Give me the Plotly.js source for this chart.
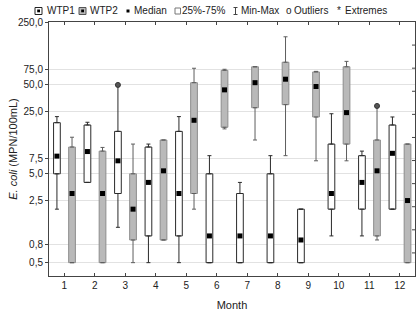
<!DOCTYPE html>
<html>
<head>
<meta charset="utf-8">
<script src="https://cdn.plot.ly/plotly-3.0.1.min.js"></script>
<style>
  html, body { margin: 0; padding: 0; background: #fff; }
  #chart { width: 420px; height: 311px; }
</style>
</head>
<body>
<div id="chart"></div>
<script>
// Monthly E. coli counts (MPN/100mL) at two treatment plants
const months = [1, 2, 3, 4, 5, 6, 7, 8, 9, 10, 11, 12];

const wtp1Min = [2.0, 4.0, 1.25, 0.5, 0.5, 0.5, 0.5, 0.5, 0.5, 1.0, 1.0, 2.0];
const wtp1Q1  = [5.0, 4.0, 3.0, 1.0, 1.0, 0.5, 0.5, 0.5, 0.5, 2.0, 2.0, 2.0];
const wtp1Med = [7.9, 8.9, 7.0, 4.0, 3.0, 1.0, 1.0, 1.0, 0.9, 3.0, 4.0, 8.5];
const wtp1Q3  = [18.8, 17.7, 15.0, 10.0, 15.0, 5.0, 3.0, 5.0, 2.0, 10.8, 8.0, 17.7];
const wtp1Max = [22.0, 19.0, 50.0, 10.8, 22.0, 8.0, 4.0, 8.0, 2.0, 23.7, 9.0, 21.8];

const wtp2Min = [0.5, 0.5, 0.5, 0.9, 2.0, 16.0, 12.0, 8.0, 7.0, 7.0, 0.9, 0.5];
const wtp2Q1  = [0.5, 0.5, 0.9, 0.9, 3.0, 16.7, 27.7, 30.0, 21.8, 10.8, 1.0, 0.5];
const wtp2Med = [3.0, 3.0, 2.0, 5.4, 20.0, 44.0, 53.0, 58.0, 48.0, 24.4, 5.4, 2.5];
const wtp2Q3  = [10.0, 9.0, 5.0, 12.0, 53.0, 73.0, 80.0, 90.0, 70.0, 80.0, 12.0, 10.8];
const wtp2Max = [12.9, 9.9, 10.8, 12.0, 77.0, 75.0, 80.0, 174.0, 71.0, 92.0, 29.0, 10.8];

// Outlying observations
const wtp1OutMonth = [3];
const wtp1OutValue = [50.0];
const wtp2OutMonth = [11];
const wtp2OutValue = [29.0];

// Y axis ticks
const yTickVals = [0.5, 0.8, 2.5, 5, 7.5, 25, 50, 75, 250];

const FONT = 'Liberation Sans, Arial, sans-serif';
const BOX_W = 0.22;
const OFF1 = -0.35, OFF2 = 0.145;           // left edge of each box relative to month
const C1 = OFF1 + BOX_W / 2, C2 = OFF2 + BOX_W / 2;   // box centres

const shift = (arr, d) => arr.map(v => v + d);
const diff = (a, b) => a.map((v, i) => v - b[i]);
const zeros = months.map(() => 0);

function boxTrace(q1, q3, off, fill, edge) {
  return {
    type: 'bar', x: months, y: diff(q3, q1), base: q1,
    width: BOX_W, offset: off,
    marker: { color: fill, line: { color: edge, width: 1 } },
    hoverinfo: 'skip', showlegend: false
  };
}

function whiskerTrace(xc, anchor, up, down, color) {
  return {
    type: 'scatter', mode: 'markers', x: shift(months, xc), y: anchor,
    marker: { size: 1, opacity: 0 },
    error_y: { type: 'data', symmetric: false, array: up, arrayminus: down,
               width: 2, thickness: 1, color: color },
    hoverinfo: 'skip', showlegend: false
  };
}

function pointTrace(xs, ys, marker) {
  return { type: 'scatter', mode: 'markers', x: xs, y: ys, marker: marker,
           hoverinfo: 'skip', showlegend: false };
}

const medMarker = { symbol: 'square', size: 5, color: '#000' };
const outMarker = { symbol: 'circle', size: 5, color: '#555', line: { color: '#333', width: 1 } };

const data = [
  boxTrace(wtp1Q1, wtp1Q3, OFF1, '#ffffff', '#2a2a2a'),
  boxTrace(wtp2Q1, wtp2Q3, OFF2, '#b9b9b9', '#8c8c8c'),
  whiskerTrace(C1, wtp1Q3, diff(wtp1Max, wtp1Q3), zeros, '#2a2a2a'),
  whiskerTrace(C1, wtp1Q1, zeros, diff(wtp1Q1, wtp1Min), '#2a2a2a'),
  whiskerTrace(C2, wtp2Q3, diff(wtp2Max, wtp2Q3), zeros, '#5e5e5e'),
  whiskerTrace(C2, wtp2Q1, zeros, diff(wtp2Q1, wtp2Min), '#5e5e5e'),
  pointTrace(shift(months, C1), wtp1Med, medMarker),
  pointTrace(shift(months, C2), wtp2Med, medMarker),
  pointTrace(shift(wtp1OutMonth, C1), wtp1OutValue, outMarker),
  pointTrace(shift(wtp2OutMonth, C2), wtp2OutValue, outMarker)
];

// Plot-area geometry in pixels, used to place the key and frame ticks
const M = { l: 49, r: 5, t: 22, b: 35 };
const PW = 420 - M.l - M.r, PH = 311 - M.t - M.b;
const px = x => (x - M.l) / PW;
const py = y => (311 - M.b - y) / PH;

const keyY = 10.7;
const shapes = [];
const annotations = [];
function rect(x0, y0, x1, y1, fill, line) {
  shapes.push({ type: 'rect', xref: 'paper', yref: 'paper',
    x0: px(x0), x1: px(x1), y0: py(y1), y1: py(y0),
    fillcolor: fill, line: { color: line, width: line ? 1 : 0 } });
}
function seg(x0, y0, x1, y1, color) {
  shapes.push({ type: 'line', xref: 'paper', yref: 'paper',
    x0: px(x0), x1: px(x1), y0: py(y0), y1: py(y1), line: { color: color, width: 1 } });
}
function label(x, text) {
  annotations.push({ xref: 'paper', yref: 'paper', x: px(x), y: py(keyY),
    xanchor: 'left', yanchor: 'middle', showarrow: false, text: text,
    font: { family: FONT, size: 10, color: '#222' }, borderpad: 0 });
}

// Key
rect(35, 7.5, 42, 14.5, '#fff', '#222');  rect(37.2, 9.5, 40, 12.3, '#000', null); label(45.5, 'WTP1');
rect(79, 7.5, 86, 14.5, '#b9b9b9', '#555'); rect(81.2, 9.5, 84, 12.3, '#000', null); label(88.5, 'WTP2');
rect(126.5, 9.5, 129.5, 12.5, '#000', null); label(133, 'Median');
rect(175, 8, 180.5, 14, '#fff', '#777'); label(180.5, '25%-75%');
seg(235.5, 7.5, 235.5, 14.5, '#444'); seg(233.5, 7.5, 237.5, 7.5, '#444'); seg(233.5, 14.5, 237.5, 14.5, '#444');
label(239.5, 'Min-Max');
label(285, 'o'); label(292.5, 'Outliers');
label(335.5, '*'); label(344, 'Extremes');

// Evenly spaced inner ticks along the right-hand frame
for (let k = 1; k <= 10; k++) {
  shapes.push({ type: 'line', xref: 'paper', yref: 'paper',
    x0: 1, x1: 1 - 3 / PW, y0: k / 11, y1: k / 11, line: { color: '#444', width: 1 } });
}

const layout = {
  width: 420, height: 311,
  margin: M,
  paper_bgcolor: '#fff', plot_bgcolor: '#fff',
  separators: ',.',
  barmode: 'overlay',
  showlegend: false,
  hovermode: false,
  font: { family: FONT, size: 10, color: '#222' },
  xaxis: {
    range: [0.5, 12.5], tickvals: months, ticks: 'inside', ticklen: 3, tickcolor: '#444',
    showgrid: false, zeroline: false, showline: true, linecolor: '#444', linewidth: 1,
    mirror: 'ticks', tickfont: { family: FONT, size: 10, color: '#222' },
    title: { text: 'Month', font: { family: FONT, size: 11, color: '#222' }, standoff: 13 }
  },
  yaxis: {
    type: 'log', range: [-0.451, 2.407], tickvals: yTickVals, tickformat: '.1f',
    ticks: 'outside', ticklen: 3, tickcolor: '#444',
    showgrid: true, gridcolor: '#e2e2e2', gridwidth: 1, zeroline: false,
    showline: true, linecolor: '#444', linewidth: 1, mirror: true,
    tickfont: { family: FONT, size: 10, color: '#222' },
    title: { text: '<i>E. coli</i> (MPN/100mL)', font: { family: FONT, size: 11, color: '#222' } }
  },
  shapes: shapes,
  annotations: annotations
};

Plotly.newPlot('chart', data, layout, { staticPlot: true, displayModeBar: false });
</script>
</body>
</html>
